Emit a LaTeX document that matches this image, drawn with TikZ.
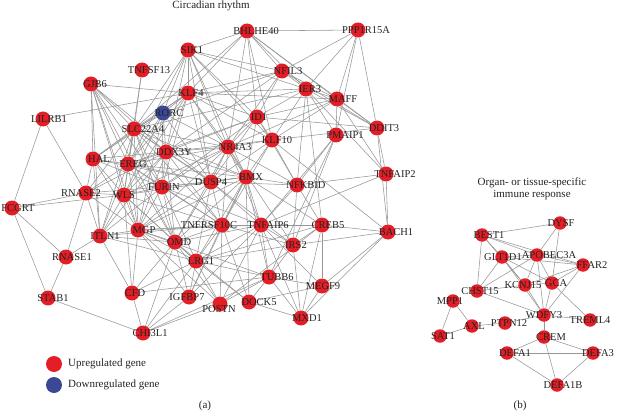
\documentclass[tikz,border=0pt]{standalone}
\usepackage{fontspec}
\setmainfont{Liberation Serif}
\pgfdeclarelayer{bg}
\pgfsetlayers{bg,main}
\definecolor{upred}{RGB}{228,30,38}
\definecolor{downblue}{RGB}{58,72,150}
\definecolor{edgegray}{RGB}{150,150,150}
\definecolor{txt}{RGB}{35,35,35}
\tikzset{
  gene/.style={circle,fill=upred,inner sep=0pt,minimum size=15pt},
  sgene/.style={circle,fill=upred,inner sep=0pt,minimum size=13.5pt},
  dgene/.style={circle,fill=downblue,inner sep=0pt,minimum size=15pt},
  lbl/.style={inner sep=0pt,font=\fontsize{10.5}{11}\selectfont,text=txt},
  edge/.style={draw=edgegray,line width=0.55pt},
  ttl/.style={inner sep=0pt,font=\fontsize{11}{12}\selectfont,text=txt,align=center},
}
% \gn[style]{name}{x}{y}{label x-offset}{label}
\newcommand\gn[6][gene]{\node[#1] (#2) at (#3,#4) {}; \node[lbl] at (#3+#5,#4+0.5) {#6};}
\begin{document}
\begin{tikzpicture}[x=1pt,y=-1pt]
\useasboundingbox (0,0) rectangle (620,414);
% ---- titles
\node[ttl] (t1) at (211,6) {Circadian rhythm};
\node[ttl] (t2) at (532,183) {Organ- or tissue-specific};
\node[ttl] (t3) at (532,195) {immune response};
\node[ttl] (pa) at (205,406) {(a)};
\node[ttl] (pb) at (520,406) {(b)};
% ---- left network
\gn{sik1}{188}{50}{4}{SIK1}
\gn{bhl}{247}{31}{9}{BHLHE40}
\gn{ppp}{358}{30}{8}{PPP1R15A}
\gn{tnfsf}{142}{70}{7}{TNFSF13}
\gn{nfil3}{282}{71}{6}{NFIL3}
\gn{gjb6}{91}{84}{4}{GJB6}
\gn{klf4}{188}{93}{3}{KLF4}
\gn{ier3}{306}{89}{4}{IER3}
\gn{maff}{337}{99}{6}{MAFF}
\gn[dgene]{rorc}{163}{113}{6}{RORC}
\gn{lilrb1}{43}{119}{6}{LILRB1}
\gn{slc}{134}{129}{9}{SLC22A4}
\gn{id1}{257}{117}{2}{ID1}
\gn{ddit3}{377}{128}{7}{DDIT3}
\gn{pmaip1}{336}{135}{9}{PMAIP1}
\gn{klf10}{272}{140}{5}{KLF10}
\gn{nr4a3}{228}{147}{7}{NR4A3}
\gn{hal}{93}{159}{6}{HAL}
\gn{ereg}{128}{164}{5}{EREG}
\gn{ddx3y}{166}{152}{8}{DDX3Y}
\gn{dusp4}{211}{182}{0}{DUSP4}
\gn{bmx}{246}{177}{5}{BMX}
\gn{tnfaip2}{386}{174}{9}{TNFAIP2}
\gn{nfkbid}{297}{185}{9}{NFKBID}
\gn{furin}{162}{187}{2}{FURIN}
\gn{wls}{124}{195}{0}{WLS}
\gn{rnase2}{86}{193}{-5}{RNASE2}
\gn{fcgrt}{12}{208}{6}{FCGRT}
\gn{mgp}{138}{230}{6}{MGP}
\gn{itln1}{100}{236}{5}{ITLN1}
\gn{omd}{175}{242}{4}{OMD}
\gn{tnfrsf}{222}{225}{-13}{TNFRSF10C}
\gn{tnfaip6}{261}{225}{7}{TNFAIP6}
\gn{creb5}{322}{225}{6}{CREB5}
\gn{bach1}{388}{232}{8}{BACH1}
\gn{irs2}{293}{245}{3}{IRS2}
\gn{lrg1}{196}{261}{5}{LRG1}
\gn{rnase1}{66}{257}{6}{RNASE1}
\gn{tubb6}{269}{277}{8}{TUBB6}
\gn{megf9}{322}{286}{1}{MEGF9}
\gn{cfd}{132}{293}{3}{CFD}
\gn{igfbp7}{189}{297}{-2}{IGFBP7}
\node[gene] (postn) at (220,304) {}; \node[lbl] at (219,309) {POSTN};
\gn{dock5}{249}{302}{10}{DOCK5}
\gn{stab1}{48}{298}{5}{STAB1}
\gn{mxd1}{301}{318}{6}{MXD1}
\gn{chi3l1}{143}{333}{7}{CHI3L1}
% ---- right network
\gn[sgene]{dysf}{560}{223}{1}{DYSF}
\gn[sgene]{best1}{482}{235}{7}{BEST1}
\gn[sgene]{glt}{502}{257}{1}{GLT1D1}
\gn[sgene]{apo}{537}{255}{12}{APOBEC3A}
\gn[sgene]{ffar2}{583}{265}{9}{FFAR2}
\gn[sgene]{kcnj}{525}{285}{-2}{KCNJ15}
\gn[sgene]{gca}{552}{283}{4}{GCA}
\gn[sgene]{chst}{477}{291}{3}{CHST15}
\gn[sgene]{mpp1}{453}{301}{-3}{MPP1}
\gn[sgene]{wdfy3}{544}{315}{0}{WDFY3}
\gn[sgene]{treml4}{590}{320}{0}{TREML4}
\gn[sgene]{ptpn}{505}{323}{4}{PTPN12}
\gn[sgene]{axl}{472}{326}{2}{AXL}
\gn[sgene]{sat1}{440}{336}{3}{SAT1}
\gn[sgene]{crem}{544}{337}{7}{CREM}
\gn[sgene]{defa1}{507}{353}{8}{DEFA1}
\gn[sgene]{defa3}{593}{353}{5}{DEFA3}
\gn[sgene]{defa1b}{557}{385}{6}{DEFA1B}
% ---- legend
\node[gene,minimum size=16pt] (lu) at (54,364) {};
\node[lbl,anchor=west,font=\fontsize{11}{12}\selectfont] (lut) at (68,364) {Upregulated gene};
\node[dgene,minimum size=16pt] (ld) at (54,385) {};
\node[lbl,anchor=west,font=\fontsize{11}{12}\selectfont] (ldt) at (68,385) {Downregulated gene};
% ---- edges
\begin{pgfonlayer}{bg}
\foreach \a/\b in {
 lilrb1/fcgrt, lilrb1/rnase2, lilrb1/klf4,
 fcgrt/rnase2, fcgrt/rnase1, fcgrt/stab1, fcgrt/wls,
 rnase1/rnase2, rnase1/itln1, rnase1/stab1,
 stab1/chi3l1,
 chi3l1/cfd, chi3l1/igfbp7, chi3l1/lrg1, chi3l1/postn, chi3l1/omd, chi3l1/tubb6,
 cfd/itln1, cfd/mgp, cfd/lrg1, cfd/omd, cfd/tubb6, cfd/wls,
 igfbp7/lrg1, igfbp7/omd, igfbp7/tnfrsf, igfbp7/tnfaip6, igfbp7/mgp,
 postn/lrg1, postn/omd, postn/mgp, postn/tnfrsf, postn/tnfaip6, postn/tubb6, postn/creb5,
 dock5/tubb6, dock5/mxd1, dock5/megf9, dock5/tnfrsf, dock5/lrg1, dock5/omd, dock5/bmx,
 tubb6/mxd1, tubb6/megf9, tubb6/lrg1, tubb6/tnfaip6, tubb6/irs2, tubb6/mgp, tubb6/bmx, tubb6/pmaip1,
 mxd1/megf9, mxd1/bach1, mxd1/creb5, mxd1/irs2, mxd1/tnfaip6,
 megf9/bach1, megf9/tnfaip6, megf9/creb5,
 bach1/creb5, bach1/tnfaip2, bach1/ddit3, bach1/irs2, bach1/klf10,
 creb5/irs2, creb5/nfkbid, creb5/tnfaip6, creb5/bmx, creb5/ier3, creb5/lrg1,
 tnfaip2/nfkbid, tnfaip2/ddit3, tnfaip2/maff, tnfaip2/tnfaip6, tnfaip2/ier3,
 irs2/tnfaip6, irs2/nfkbid, irs2/nr4a3, irs2/pmaip1, irs2/dusp4,
 nfkbid/bmx, nfkbid/klf10, nfkbid/nr4a3, nfkbid/ier3, nfkbid/pmaip1, nfkbid/tnfaip6, nfkbid/dusp4, nfkbid/id1,
 pmaip1/maff, pmaip1/ier3, pmaip1/ppp, pmaip1/tnfaip6,
 ddit3/maff, ddit3/ier3, ddit3/nfil3, ddit3/id1, ddit3/ppp, ddit3/bhl, ddit3/klf10,
 maff/ier3, maff/nfil3, maff/bhl, maff/ppp, maff/klf10, maff/id1, maff/nr4a3, maff/klf4,
 ier3/nfil3, ier3/bhl, ier3/ppp, ier3/id1, ier3/klf10, ier3/sik1, ier3/klf4, ier3/slc,
 nfil3/bhl, nfil3/ppp, nfil3/id1, nfil3/sik1, nfil3/klf4, nfil3/nr4a3, nfil3/rorc, nfil3/ddx3y,
 bhl/ppp, bhl/sik1, bhl/id1, bhl/klf10, bhl/klf4, bhl/slc, bhl/nr4a3,
 sik1/klf4, sik1/slc, sik1/nr4a3, sik1/ddx3y, sik1/klf10, sik1/id1, sik1/ereg, sik1/rorc, sik1/dusp4, sik1/bmx,
 tnfsf/slc, tnfsf/ereg,
 gjb6/klf4, gjb6/slc, gjb6/hal, gjb6/ereg, gjb6/wls, gjb6/furin, gjb6/ddx3y, gjb6/dusp4, gjb6/mgp, gjb6/omd, gjb6/itln1,
 klf4/slc, klf4/rorc, klf4/ddx3y, klf4/nr4a3, klf4/id1, klf4/klf10, klf4/ereg, klf4/furin, klf4/dusp4, klf4/bmx, klf4/hal, klf4/wls,
 rorc/slc, rorc/ddx3y, rorc/ereg, rorc/furin, rorc/nr4a3, rorc/dusp4, rorc/hal, rorc/wls, rorc/mgp,
 slc/hal, slc/ereg, slc/ddx3y, slc/wls, slc/furin, slc/rnase2, slc/mgp, slc/itln1, slc/nr4a3, slc/dusp4, slc/omd, slc/tnfrsf, slc/bmx,
 id1/klf10, id1/nr4a3, id1/bmx, id1/dusp4, id1/ddx3y, id1/furin, id1/ereg,
 klf10/nr4a3, klf10/bmx, klf10/dusp4, klf10/tnfrsf, klf10/ddx3y,
 nr4a3/ddx3y, nr4a3/bmx, nr4a3/dusp4, nr4a3/furin, nr4a3/ereg, nr4a3/tnfrsf, nr4a3/tnfaip6, nr4a3/wls, nr4a3/mgp, nr4a3/omd,
 hal/ereg, hal/rnase2, hal/wls, hal/itln1, hal/mgp, hal/furin, hal/ddx3y, hal/dusp4,
 ereg/ddx3y, ereg/wls, ereg/furin, ereg/rnase2, ereg/mgp, ereg/itln1, ereg/omd, ereg/dusp4, ereg/tnfrsf, ereg/bmx,
 ddx3y/furin, ddx3y/wls, ddx3y/dusp4, ddx3y/bmx, ddx3y/mgp, ddx3y/omd, ddx3y/tnfrsf, ddx3y/itln1, ddx3y/rnase2,
 dusp4/bmx, dusp4/furin, dusp4/wls, dusp4/tnfrsf, dusp4/tnfaip6, dusp4/mgp, dusp4/omd, dusp4/lrg1,
 bmx/tnfrsf, bmx/tnfaip6, bmx/furin, bmx/omd, bmx/lrg1, bmx/mgp, bmx/igfbp7,
 furin/wls, furin/mgp, furin/omd, furin/tnfrsf, furin/itln1, furin/rnase2, furin/lrg1, furin/tnfaip6,
 wls/rnase2, wls/mgp, wls/itln1, wls/omd, wls/tnfrsf, wls/lrg1,
 rnase2/itln1, rnase2/mgp,
 mgp/itln1, mgp/omd, mgp/tnfrsf, mgp/lrg1, mgp/tnfaip6,
 itln1/omd, itln1/tnfrsf, itln1/lrg1,
 omd/tnfrsf, omd/lrg1, omd/tnfaip6,
 tnfrsf/tnfaip6, tnfrsf/lrg1, tnfrsf/irs2, tnfrsf/creb5,
 tnfaip6/lrg1, lrg1/irs2,
 best1/dysf, dysf/apo, dysf/gca,
 best1/glt, best1/apo, best1/ffar2, best1/chst, best1/kcnj,
 glt/apo, glt/ffar2, glt/kcnj, glt/wdfy3, glt/chst, glt/gca,
 apo/ffar2, apo/gca, apo/kcnj, apo/wdfy3, apo/chst,
 ffar2/gca, ffar2/kcnj, ffar2/wdfy3,
 gca/kcnj, gca/wdfy3, gca/treml4,
 kcnj/chst, kcnj/wdfy3, chst/wdfy3,
 wdfy3/treml4, wdfy3/ptpn, wdfy3/crem,
 ptpn/axl, axl/mpp1, axl/sat1, mpp1/sat1,
 crem/defa1, crem/defa3, crem/defa1b,
 defa1/defa3, defa1/defa1b, defa3/defa1b}
 { \draw[edge] (\a) -- (\b); }
\end{pgfonlayer}
\end{tikzpicture}
\end{document}
